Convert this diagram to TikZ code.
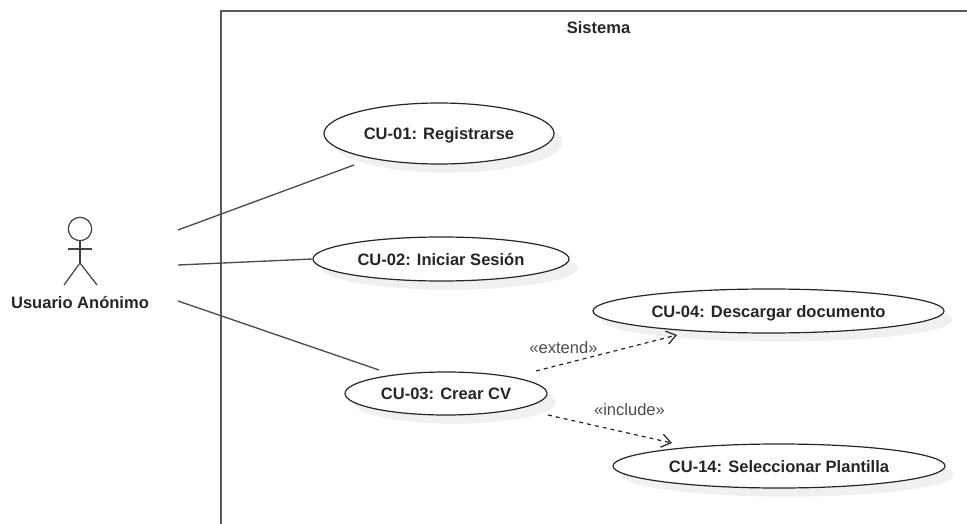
\documentclass[tikz,border=0pt]{standalone}
\usepackage{fontspec}
\setmainfont{Liberation Sans}
\usetikzlibrary{shapes.geometric,shadows,arrows.meta}
\tikzset{
  usecase/.style={ellipse,draw=black!85,line width=0.9pt,fill=white,inner sep=0pt,text height=9pt,text depth=0pt,font=\fontsize{12.4pt}{14pt}\selectfont\bfseries,text=black!85,
    drop shadow={shadow xshift=6.5pt,shadow yshift=-6.5pt,fill=black!6,opacity=1}},
  assoc/.style={draw=black!70,line width=1pt},
  depend/.style={draw=black!85,line width=0.9pt,dash pattern=on 3pt off 3pt,-{Straight Barb[length=7pt,width=10pt,line width=0.9pt]}},
  stereo/.style={font=\fontsize{12.4pt}{14pt}\selectfont,text=black!70,inner sep=0pt},
  bold/.style={font=\fontsize{12.4pt}{14pt}\selectfont\bfseries,text=black!85,inner sep=0pt},
  limb/.style={draw=black!75,line width=0.9pt}
}
\begin{document}
\begin{tikzpicture}[x=0.75pt,y=-0.75pt]
\useasboundingbox (0,0) rectangle (967,524);
\fill[white] (0,0) rectangle (967,524);
\coordinate (fbl) at (221,524);
\coordinate (ftl) at (221,11);
\coordinate (ftr) at (967,11);
\draw[black!65,line width=1.1pt] (fbl) -- (ftl) -- (ftr);
\node[bold] (sys) at (598.5,27.5) {Sistema};
% actor
\node[draw=black!75,line width=0.9pt,circle,minimum size=17.5pt,inner sep=0pt] (head) at (80,229) {};
\coordinate (hip) at (80,263);
\coordinate (armL) at (68,249);
\coordinate (armR) at (92,249);
\coordinate (footL) at (64,285);
\coordinate (footR) at (97,285);
\draw[limb] (head.south) -- (hip);
\draw[limb] (armL) -- (armR);
\draw[limb] (footL) -- (hip) -- (footR);
\node[bold] (actor) at (80,303) {Usuario Anónimo};
% use cases
\node[usecase,minimum width=172.5pt,minimum height=45.75pt] (u1) at (439,133.5) {CU-01: Registrarse};
\node[usecase,minimum width=192pt,minimum height=33pt] (u2) at (441,259) {CU-02: Iniciar Sesión};
\node[usecase,minimum width=151.5pt,minimum height=32.25pt] (u3) at (446,393.5) {CU-03: Crear CV};
\node[usecase,minimum width=263.25pt,minimum height=33pt] (u4) at (768.5,311) {CU-04: Descargar documento};
\node[usecase,minimum width=249pt,minimum height=33pt] (u14) at (779,466) {CU-14: Seleccionar Plantilla};
% free ends
\coordinate (a1) at (178,230);
\coordinate (a2) at (178,265);
\coordinate (a3) at (178,301);
\coordinate (e1) at (354,165);
\coordinate (e3) at (379,370);
\coordinate (x1) at (536,371);
\coordinate (x2) at (677,335);
\coordinate (i1) at (548,415);
\coordinate (i2) at (672,443);
\draw[assoc] (a1) -- (e1);
\draw[assoc] (a2) -- (u2.west);
\draw[assoc] (a3) -- (e3);
\draw[depend] (x1) -- (x2);
\draw[depend] (i1) -- (i2);
\node[stereo] (lx) at (563.5,348) {«extend»};
\node[stereo] (li) at (629.5,410) {«include»};
\end{tikzpicture}
\end{document}
